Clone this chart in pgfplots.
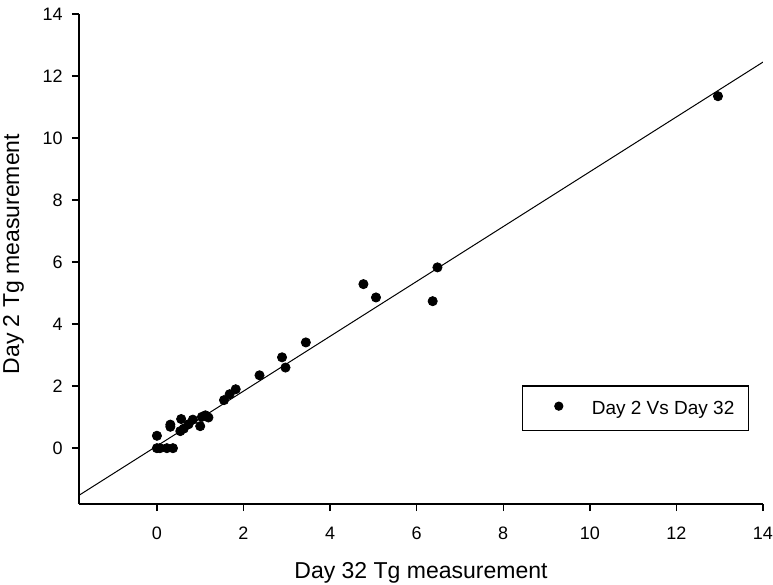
\documentclass[border=0pt]{standalone}
\usepackage{fontspec}
\setmainfont{Liberation Sans}
\usepackage{pgfplots}
\pgfplotsset{compat=1.18}
\begin{document}
\begin{tikzpicture}
\begin{axis}[
  scale only axis, width=342pt, height=245pt,
  xmin=-1.8, xmax=14, ymin=-1.8, ymax=14,
  axis lines*=left,
  axis line style={line width=0.75pt, black},
  xtick={0,2,...,14}, ytick={0,2,...,14},
  xticklabels={0,2,4,6,8,10,12,14},
  yticklabels={0,2,4,6,8,10,12,14},
  tick align=outside, major tick length=3.5pt,
  tick style={line width=0.75pt, black},
  tick label style={font=\fontsize{9}{10}\selectfont, inner sep=0pt},
  xticklabel style={anchor=north, yshift=-8pt},
  yticklabel style={anchor=east, xshift=-4.5pt},
  xlabel={Day 32 Tg measurement},
  ylabel={Day 2 Tg measurement},
  xlabel style={at={(rel axis cs:0.5,-0.153)}, anchor=base, font=\fontsize{11.5}{13}\selectfont},
  ylabel style={at={(rel axis cs:-0.0877,0.51)}, anchor=base, font=\fontsize{11.5}{13}\selectfont},
  legend style={at={(rel axis cs:0.9795,0.149)}, anchor=south east, draw=black, line width=0.6pt,
    font=\fontsize{9.5}{11}\selectfont, inner xsep=0pt, inner ysep=7.8pt,
    nodes={inner sep=0pt, text depth=0pt}},
  legend image code/.code={\path[draw=none,fill=none] (0pt,0pt) -- (34.5pt,0pt); \fill[black] (18pt,1pt) circle (2pt);},
]
\addplot[black, line width=0.5pt, forget plot] coordinates {(-1.8,-1.52) (14,12.45)};
\addplot[only marks, mark=*, mark size=2.3pt, black] table {
x y
0 0.40
0 0
0.07 0
0.23 0
0.37 0
0.31 0.76
0.31 0.69
0.56 0.94
0.54 0.55
0.62 0.63
0.73 0.77
0.83 0.92
1.00 0.71
1.04 1.01
1.12 1.06
1.19 0.99
1.55 1.55
1.68 1.74
1.82 1.90
2.37 2.35
2.89 2.93
2.97 2.60
3.44 3.41
4.77 5.29
5.06 4.86
6.37 4.74
6.48 5.83
12.96 11.35
};
\addlegendentry{Day 2 Vs Day 32\hspace*{7pt}}
\coordinate (LL) at (rel axis cs:0,0);
\end{axis}
\pgfresetboundingbox
\path (LL) ++(-39.5pt,-40.5pt) rectangle ++(386.5pt,292.5pt);
\end{tikzpicture}
\end{document}
